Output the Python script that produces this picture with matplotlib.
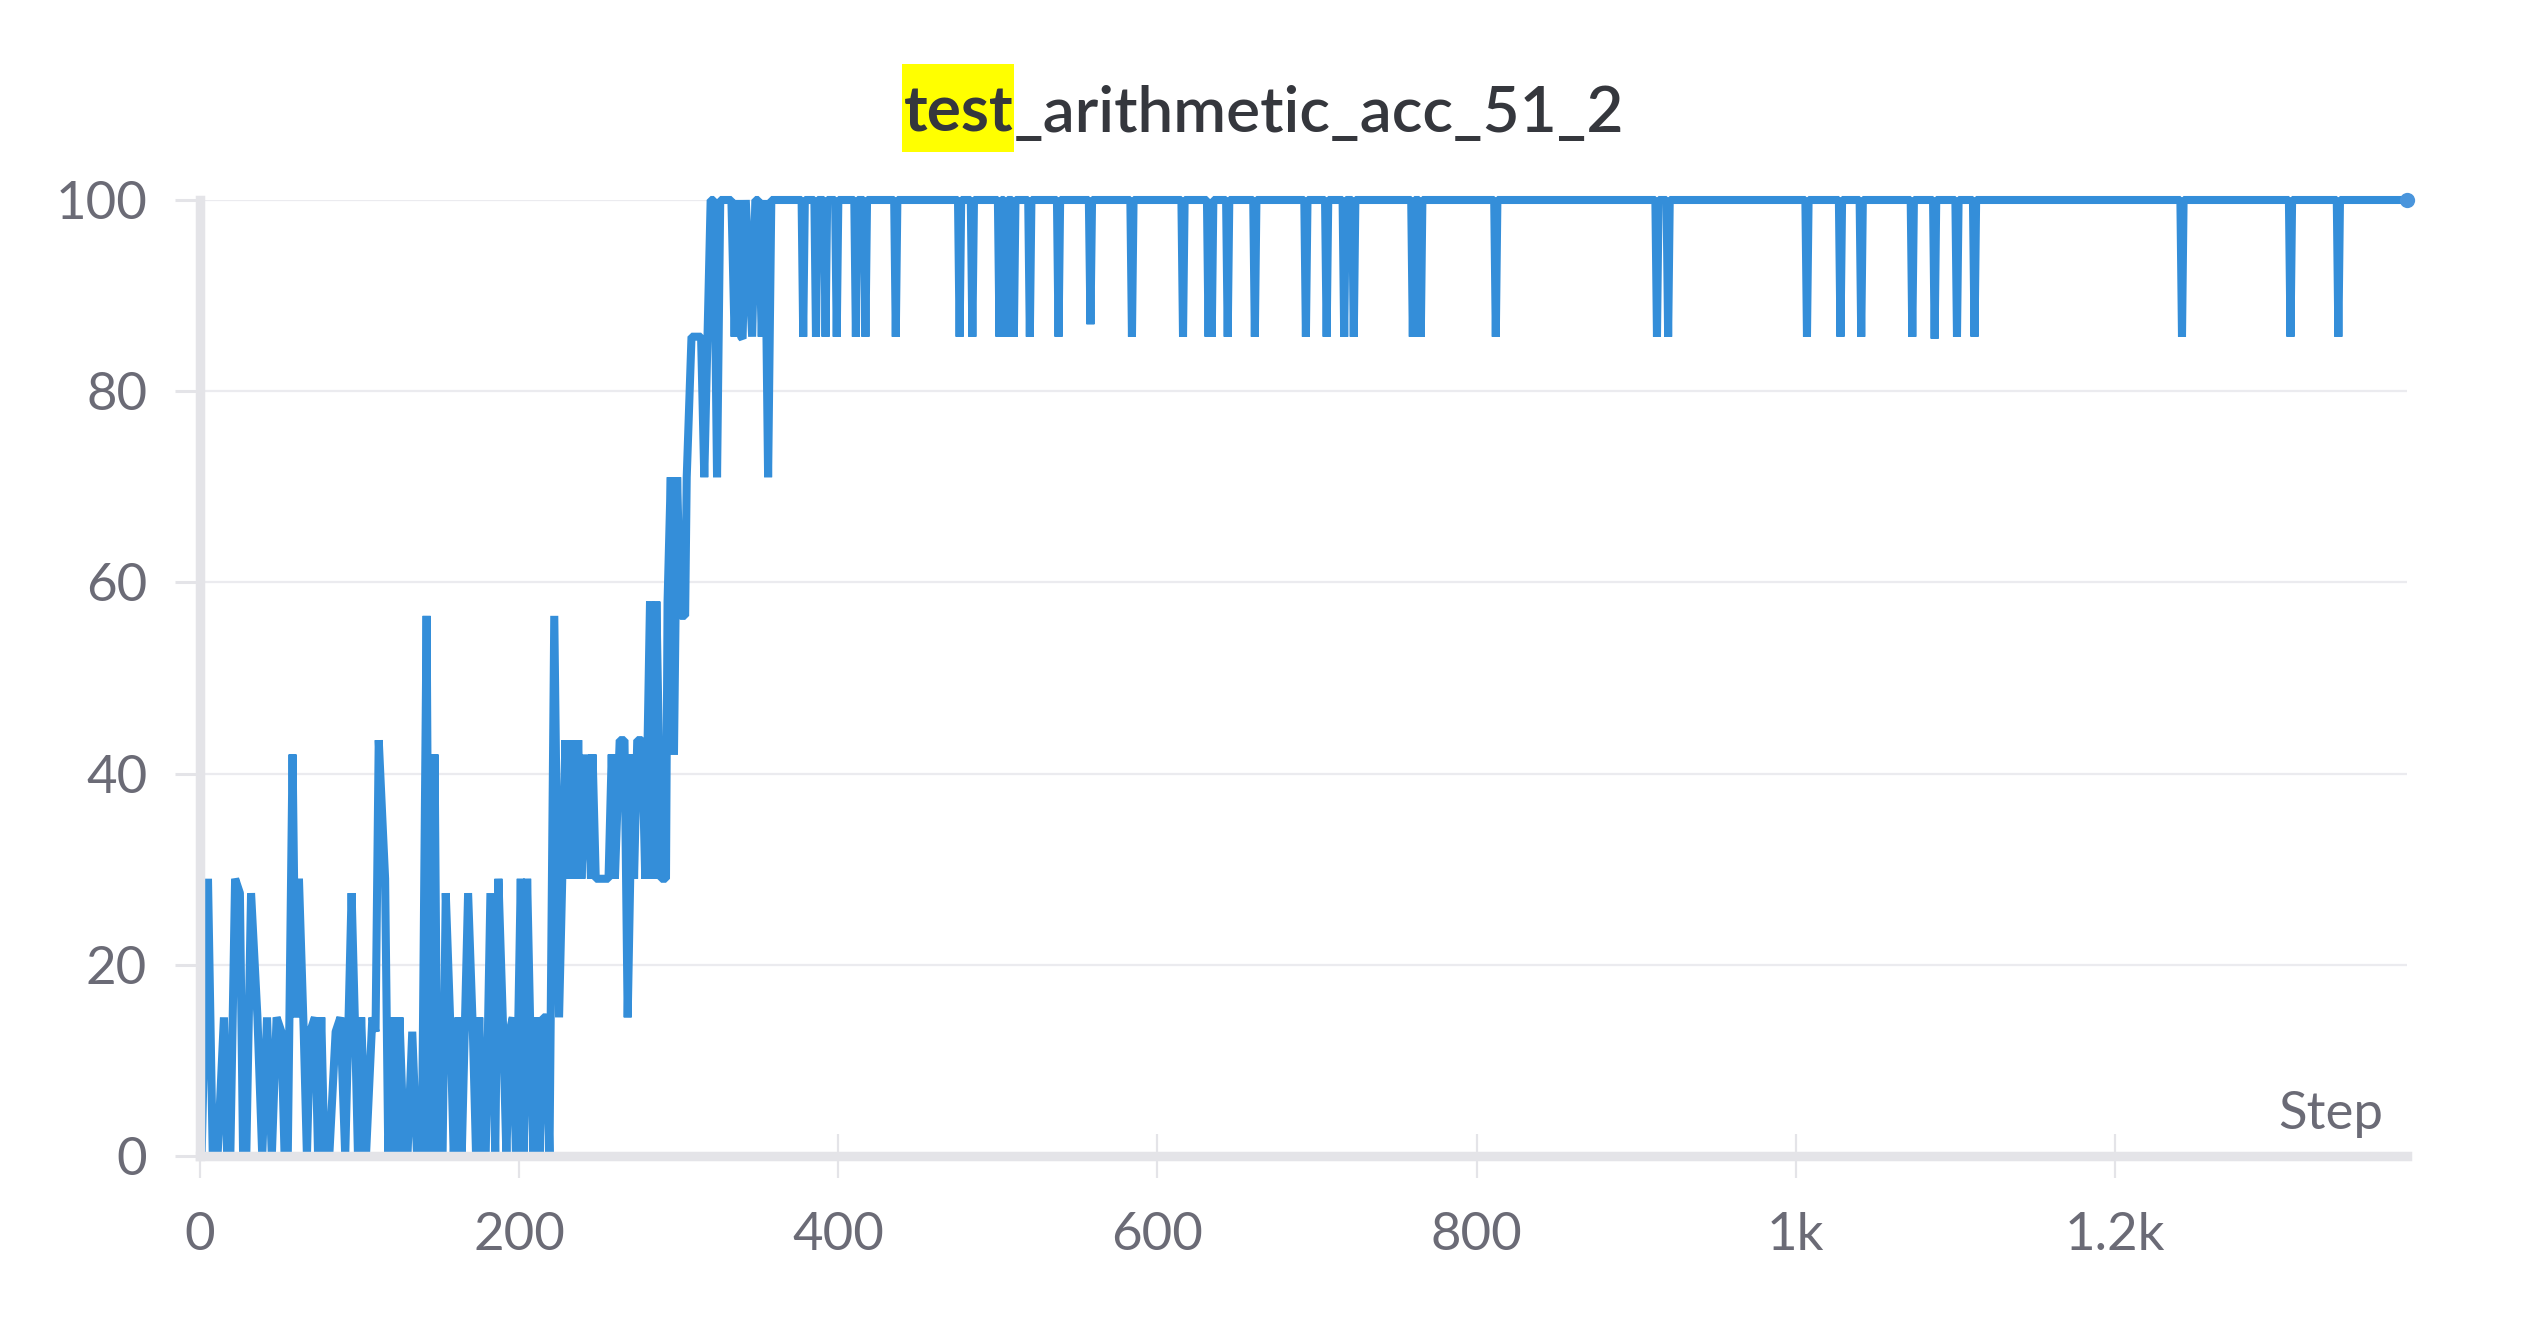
import matplotlib
matplotlib.use("Agg")
import matplotlib.pyplot as plt
from matplotlib.patches import Rectangle

plt.rcParams['font.family'] = ['Lato', 'DejaVu Sans']

# texts
title_hl = "test"
title_rest = "_arithmetic_acc_51_2"
x_label = "Step"
x_ticks = [0, 200, 400, 600, 800, 1000, 1200]
x_ticklabels = ["0", "200", "400", "600", "800", "1k", "1.2k"]
y_ticks = [0, 20, 40, 60, 80, 100]

# early noisy part, steps 0-222
early_steps = [1, 5, 8, 11, 15, 17, 19, 22, 25, 27, 29, 32, 36, 39, 42, 45,
               48, 51, 53, 55, 58, 60, 62, 65, 67, 69, 72, 74, 76, 78, 81, 85,
               88, 91, 95, 97, 99, 101, 104, 108, 110, 112, 116, 118, 121,
               123, 125, 128, 130, 133, 136, 139, 142, 144, 147, 149, 152,
               154, 157, 159, 162, 164, 168, 171, 173, 175, 177, 179, 182,
               185, 187, 190, 192, 194, 196, 198, 201, 203, 205, 207, 209,
               211, 213, 215, 217, 219, 222]
early_vals = [0, 29, 0, 0, 14.5, 0, 0, 29, 27.5, 0, 0, 27.5, 14.5, 0, 14.5, 0,
              14.5, 13, 0, 0, 42, 14.5, 29, 13, 0, 13, 14.5, 0, 14.5, 0, 0, 13,
              14.5, 0, 27.5, 14.5, 0, 14.5, 0, 14.5, 13, 43.5, 29, 0, 14.5,
              0, 14.5, 0, 0, 13, 0, 0, 56.5, 0, 42, 0, 0,
              27.5, 13, 0, 14.5, 0, 27.5, 13, 0, 14.5, 0, 0, 27.5,
              0, 29, 13, 0, 13, 14.5, 0, 29, 0, 29, 13, 0,
              14.5, 0, 14.5, 14.5, 0, 56.5]

# climb, steps 225-358
mid_steps = [225, 229, 231, 233, 235, 237, 239, 242, 245, 246, 248, 252, 256,
             258, 260, 263, 266, 268, 271, 272, 274, 277, 279, 282, 284, 286,
             289, 292, 293, 295, 297, 299, 301, 304, 305, 308, 311, 314, 316,
             318, 320, 322, 324, 326, 333, 335, 337, 339, 340, 342, 346, 348,
             350, 352, 354, 356, 358]
mid_vals = [14.5, 43.5, 29, 43.5, 29, 43.5, 29, 42, 29, 42, 29, 29, 29,
            42, 29, 43.5, 43.5, 14.5, 42, 29, 43.5, 43.5, 29, 58, 29, 58,
            29, 29, 58, 71, 42, 71, 56.5, 56.5, 71, 85.7, 85.7, 85.7, 71,
            85.7, 100, 100, 71, 100, 100, 85.7, 100, 85.7, 85.5, 100, 85.7, 100,
            100, 85.7, 100, 71, 100]

# plateau with occasional dips, steps 377-1383
late_steps = [377, 378, 379, 385, 386, 387, 391, 392, 393, 398, 399, 400,
              410, 411, 412, 416, 417, 418, 435, 436, 437, 475, 476, 477,
              483, 484, 485, 500, 501, 502, 504, 505, 506, 509, 510, 511,
              519, 520, 521, 537, 538, 539, 557, 558, 559, 583, 584, 585,
              615, 616, 617, 631, 632, 633, 634, 635, 643, 644, 645,
              660, 661, 662, 692, 693, 694, 705, 706, 707, 716, 717, 718,
              722, 723, 724, 759, 760, 761, 764, 765, 766, 811, 812, 813,
              912, 913, 914, 919, 920, 921, 1006, 1007, 1008, 1027, 1028, 1029,
              1040, 1041, 1042, 1072, 1073, 1074, 1086, 1087, 1088,
              1100, 1101, 1102, 1111, 1112, 1113, 1241, 1242, 1243,
              1309, 1310, 1311, 1339, 1340, 1341, 1383]
late_vals = [100, 85.7, 100, 100, 85.7, 100, 100, 85.7, 100, 100, 85.7, 100,
             100, 85.7, 100, 100, 85.7, 100, 100, 85.7, 100, 100, 85.7, 100,
             100, 85.7, 100, 100, 85.7, 100, 100, 85.7, 100, 100, 85.7, 100,
             100, 85.7, 100, 100, 85.7, 100, 100, 87, 100, 100, 85.7, 100,
             100, 85.7, 100, 100, 85.7, 100, 85.7, 100, 100, 85.7, 100,
             100, 85.7, 100, 100, 85.7, 100, 100, 85.7, 100, 100, 85.7, 100,
             100, 85.7, 100, 100, 85.7, 100, 100, 85.7, 100, 100, 85.7, 100,
             100, 85.7, 100, 100, 85.7, 100, 100, 85.7, 100, 100, 85.7, 100,
             100, 85.7, 100, 100, 85.7, 100, 100, 85.5, 100,
             100, 85.7, 100, 100, 85.7, 100, 100, 85.7, 100,
             100, 85.7, 100, 100, 85.7, 100, 100]

steps = early_steps + mid_steps + late_steps
vals = early_vals + mid_vals + late_vals

W, H, DPI = 2528, 1328, 200
line_col = '#348ed9'
axis_col = '#e4e4e8'
grid_col = '#ebebef'
text_col = '#6b6b76'

fig = plt.figure(figsize=(W / DPI, H / DPI), dpi=DPI)
ax = fig.add_axes([200 / W, 1 - 1156 / H, (2407 - 200) / W, (1156 - 200) / H])

ax.plot(steps, vals, color=line_col, lw=2.9, solid_joinstyle='bevel',
        clip_on=False, zorder=3)
ax.plot([steps[-1]], [vals[-1]], 'o', ms=5.5, color='#4a95dc', mec='none',
        clip_on=False, zorder=4)

ax.set_xlim(0, 1383)
ax.set_ylim(0, 100)
ax.set_xticks(x_ticks)
ax.set_xticklabels(x_ticklabels)
ax.set_yticks(y_ticks)

for s in ['top', 'right']:
    ax.spines[s].set_visible(False)
for s in ['left', 'bottom']:
    ax.spines[s].set_color(axis_col)
    ax.spines[s].set_linewidth(3.4)
    ax.spines[s].set_zorder(5)

ax.set_axisbelow(True)
ax.yaxis.grid(True, color=grid_col, lw=0.8)
ax.tick_params(axis='y', length=9, width=1.1, color=axis_col, pad=10,
               labelsize=19, labelcolor=text_col)
ax.tick_params(axis='x', direction='inout', length=16, width=0.8,
               color=axis_col, pad=12, labelsize=19, labelcolor=text_col)

fig.text(2383 / W, 1 - 1129 / H, x_label, ha='right', va='baseline',
         fontsize=19, color=text_col)

# title: highlighted "test" + rest, centred together
ty = 1 - 132 / H
t1 = fig.text(0, ty, title_hl, fontsize=23, weight='bold', color='#35373d',
              va='baseline', zorder=3)
t2 = fig.text(0, ty, title_rest, fontsize=23, weight='semibold', color='#35373d',
              va='baseline', zorder=3)
fig.canvas.draw()
r = fig.canvas.get_renderer()
w1 = t1.get_window_extent(r).width
w2 = t2.get_window_extent(r).width
x0 = (W - (w1 + w2)) / 2
t1.set_x(x0 / W)
t2.set_x((x0 + w1) / W)

# yellow highlight behind "test"
fig.add_artist(Rectangle(((x0 - 2) / W, 1 - 152 / H), (w1 + 2) / W, 88 / H,
                         transform=fig.transFigure, facecolor='#ffff00',
                         edgecolor='none', zorder=2))

fig.savefig("out.png", dpi=DPI)
